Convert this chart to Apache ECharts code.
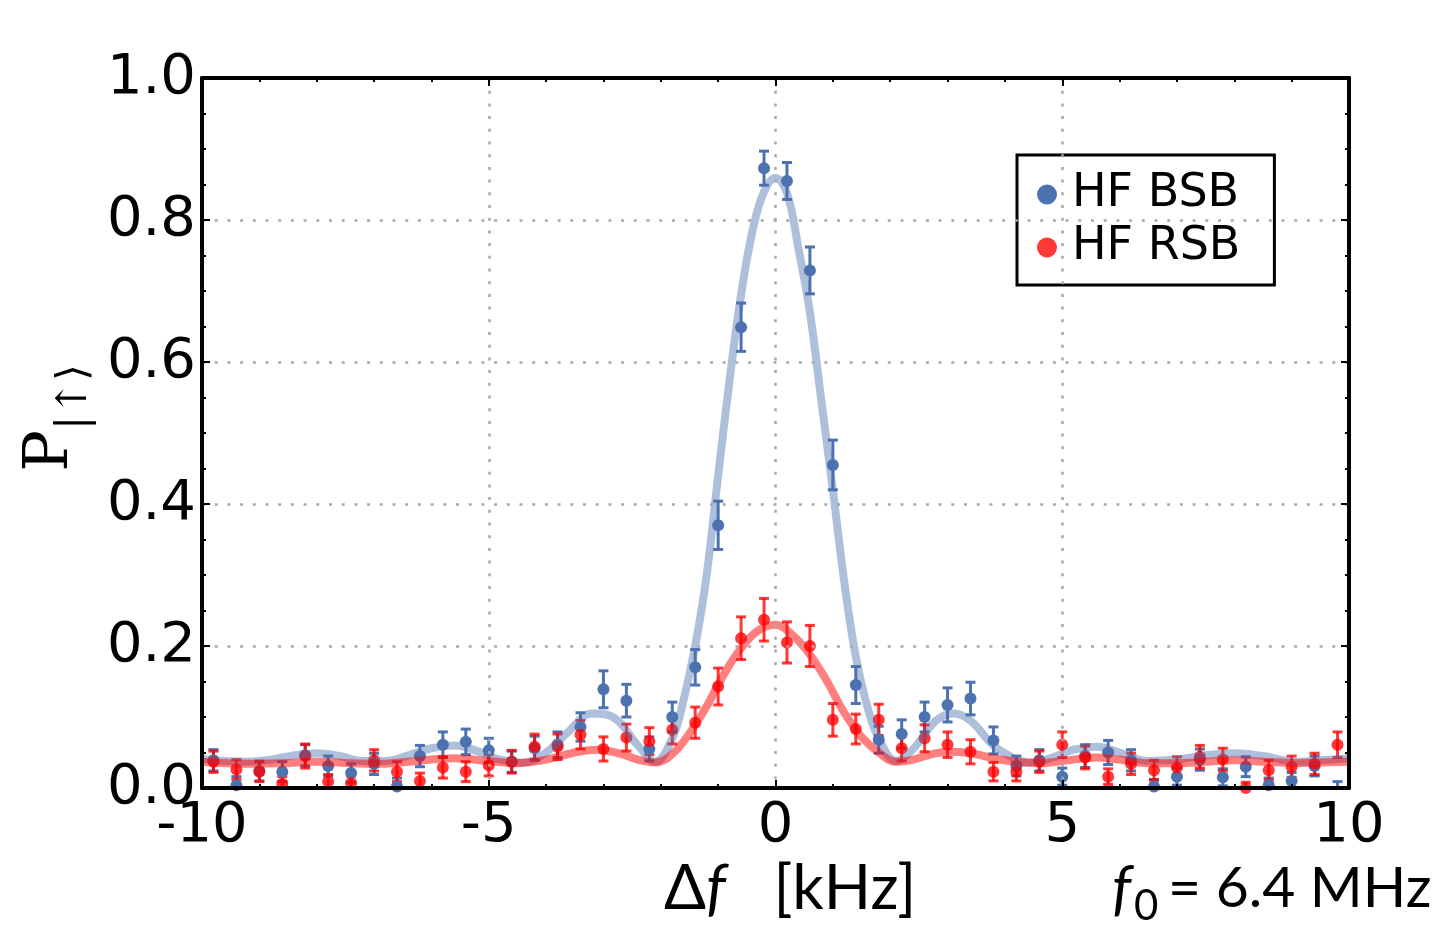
<!DOCTYPE html>
<html>
<head>
<meta charset="utf-8">
<script src="https://cdn.jsdelivr.net/npm/echarts@6/dist/echarts.min.js"></script>
<style>
  html, body { margin: 0; padding: 0; background: #fff; }
  #main { width: 1442px; height: 925px; }
</style>
</head>
<body>
<div id="main"></div>
<script>
// detuning of each measured point [kHz]
const detuning = [-9.8, -9.4, -9.0, -8.6, -8.2, -7.8, -7.4, -7.0, -6.6, -6.2,
  -5.8, -5.4, -5.0, -4.6, -4.2, -3.8, -3.4, -3.0, -2.6, -2.2,
  -1.8, -1.4, -1.0, -0.6, -0.2, 0.2, 0.6, 1.0, 1.4, 1.8,
  2.2, 2.6, 3.0, 3.4, 3.8, 4.2, 4.6, 5.0, 5.4, 5.8,
  6.2, 6.6, 7.0, 7.4, 7.8, 8.2, 8.6, 9.0, 9.4, 9.8];

// HF BSB measured points and errors
const bsbVals = [0.039, 0.004, 0.024, 0.023, 0.046, 0.031, 0.021, 0.034, 0.002, 0.045,
  0.061, 0.065, 0.053, 0.037, 0.056, 0.061, 0.086, 0.139, 0.123, 0.055,
  0.100, 0.170, 0.370, 0.649, 0.873, 0.855, 0.729, 0.455, 0.145, 0.068,
  0.076, 0.100, 0.117, 0.126, 0.067, 0.031, 0.039, 0.016, 0.045, 0.050,
  0.039, 0.002, 0.016, 0.040, 0.015, 0.030, 0.004, 0.010, 0.031, -0.006];
const bsbErr = [0.015, 0.012, 0.014, 0.014, 0.015, 0.014, 0.013, 0.015, 0.012, 0.015,
  0.018, 0.018, 0.017, 0.015, 0.017, 0.018, 0.020, 0.026, 0.023, 0.017,
  0.021, 0.025, 0.034, 0.034, 0.024, 0.026, 0.033, 0.035, 0.026, 0.019,
  0.020, 0.021, 0.024, 0.023, 0.019, 0.014, 0.015, 0.012, 0.016, 0.017,
  0.015, 0.010, 0.012, 0.015, 0.012, 0.014, 0.010, 0.012, 0.014, 0.015];

// HF RSB measured points and errors
const rsbVals = [0.037, 0.026, 0.023, 0.006, 0.045, 0.009, 0.007, 0.039, 0.023, 0.010,
  0.029, 0.023, 0.032, 0.037, 0.058, 0.058, 0.075, 0.055, 0.071, 0.066,
  0.082, 0.092, 0.143, 0.211, 0.237, 0.205, 0.200, 0.096, 0.083, 0.096,
  0.056, 0.070, 0.061, 0.051, 0.023, 0.023, 0.037, 0.061, 0.043, 0.016,
  0.034, 0.025, 0.029, 0.044, 0.040, 0.000, 0.025, 0.030, 0.034, 0.061];
const rsbErr = [0.015, 0.014, 0.014, 0.010, 0.017, 0.010, 0.010, 0.015, 0.014, 0.011,
  0.015, 0.014, 0.015, 0.016, 0.018, 0.018, 0.020, 0.017, 0.019, 0.019,
  0.020, 0.022, 0.026, 0.030, 0.030, 0.029, 0.029, 0.023, 0.021, 0.022,
  0.018, 0.019, 0.018, 0.017, 0.013, 0.013, 0.015, 0.018, 0.016, 0.011,
  0.015, 0.014, 0.015, 0.016, 0.016, 0.008, 0.014, 0.015, 0.015, 0.018];

// fitted curves
const bsbFitX = [-10, -9.6, -9.2, -8.8, -8.4, -8.0, -7.6, -7.2, -6.8, -6.4,
  -6.0, -5.6, -5.2, -4.8, -4.4, -4.0, -3.6, -3.2, -2.8, -2.4,
  -2.1, -1.8, -1.6, -1.4, -1.2, -1.0, -0.8, -0.6, -0.4, -0.2,
  0, 0.2, 0.4, 0.6, 0.8, 1.0, 1.2, 1.4, 1.6, 1.8,
  2.1, 2.4, 2.8, 3.1, 3.4, 3.8, 4.2, 4.4, 4.8, 5.2,
  5.6, 6.0, 6.5, 7.0, 7.5, 8.0, 8.5, 9.1, 9.5, 10];
const bsbFitY = [0.041, 0.038, 0.037, 0.040, 0.046, 0.049, 0.045, 0.038, 0.038, 0.046,
  0.056, 0.060, 0.052, 0.040, 0.036, 0.050, 0.080, 0.105, 0.098, 0.060,
  0.037, 0.070, 0.125, 0.200, 0.300, 0.440, 0.575, 0.695, 0.785, 0.840,
  0.859, 0.838, 0.760, 0.670, 0.545, 0.420, 0.290, 0.185, 0.115, 0.070,
  0.038, 0.055, 0.095, 0.105, 0.095, 0.060, 0.040, 0.036, 0.042, 0.054,
  0.058, 0.050, 0.038, 0.040, 0.046, 0.049, 0.045, 0.037, 0.039, 0.042];

const rsbFitX = [-10, -9.2, -8.6, -8.0, -7.4, -7.0, -6.4, -5.6, -5.0, -4.5,
  -4.0, -3.5, -3.1, -2.7, -2.4, -2.1, -1.8, -1.5, -1.2, -0.9,
  -0.6, -0.3, 0, 0.3, 0.6, 0.9, 1.2, 1.5, 1.8, 2.1,
  2.4, 2.7, 3.0, 3.4, 3.8, 4.2, 4.6, 5.0, 5.6, 6.0,
  6.5, 7.0, 7.5, 8.0, 8.5, 9.1, 9.5, 10];
const rsbFitY = [0.037, 0.034, 0.035, 0.037, 0.035, 0.034, 0.037, 0.042, 0.038, 0.035,
  0.040, 0.050, 0.054, 0.048, 0.040, 0.036, 0.048, 0.077, 0.115, 0.160,
  0.197, 0.222, 0.230, 0.215, 0.188, 0.150, 0.106, 0.072, 0.050, 0.037,
  0.040, 0.047, 0.051, 0.049, 0.042, 0.037, 0.035, 0.038, 0.043, 0.040,
  0.035, 0.035, 0.037, 0.039, 0.037, 0.035, 0.036, 0.037];

const xTicks = [-10, -5, 0, 5, 10];
const yTicks = [0.0, 0.2, 0.4, 0.6, 0.8, 1.0];

const BLUE = '#4C72B0';
const RED = 'rgba(255,0,0,0.78)';

const zip = (xs, ys) => xs.map((x, i) => [x, ys[i]]);
const zip3 = (xs, ys, es) => xs.map((x, i) => [x, ys[i], es[i]]);

// vertical error bar with small caps
function errorBars(color) {
  return function (params, api) {
    const x = api.value(0), y = api.value(1), e = api.value(2);
    const hi = api.coord([x, y + e]);
    const lo = api.coord([x, y - e]);
    const w = 5;
    const st = { stroke: color, lineWidth: 3 };
    return {
      type: 'group',
      children: [
        { type: 'line', shape: { x1: hi[0], y1: hi[1], x2: lo[0], y2: lo[1] }, style: st },
        { type: 'line', shape: { x1: hi[0] - w, y1: hi[1], x2: hi[0] + w, y2: hi[1] }, style: st },
        { type: 'line', shape: { x1: lo[0] - w, y1: lo[1], x2: lo[0] + w, y2: lo[1] }, style: st }
      ]
    };
  };
}

const chart = echarts.init(document.getElementById('main'), null, { renderer: 'canvas' });

const tickFont = { fontFamily: 'DejaVu Sans', fontSize: 56, color: '#000' };
const gridLine = { show: true, lineStyle: { color: '#a8a8a8', width: 2.5, type: [3, 9.7] } };
const frameLine = { show: true, onZero: false, lineStyle: { color: '#000', width: 4 } };
const majorTick = { show: true, inside: true, length: 8, lineStyle: { color: '#000', width: 2 } };

const option = {
  animation: false,
  backgroundColor: '#fff',
  grid: { left: 202, right: 93, top: 78, bottom: 137 },
  legend: {
    left: 1017,
    top: 155,
    orient: 'vertical',
    data: ['HF BSB', 'HF RSB'],
    icon: 'circle',
    itemWidth: 20,
    itemHeight: 20,
    itemGap: 0,
    padding: [13, 34, 11, 20],
    borderColor: '#000',
    borderWidth: 3,
    backgroundColor: '#fff',
    textStyle: { fontFamily: 'DejaVu Sans', fontSize: 46, lineHeight: 53, color: '#000', padding: [0, 0, 0, 10] }
  },
  xAxis: [{
    type: 'value', min: -10, max: 10, interval: 5, z: 10,
    axisLine: frameLine,
    axisTick: majorTick,
    minorTick: { show: true, splitNumber: 5, length: 4, lineStyle: { color: '#000', width: 2 } },
    axisLabel: Object.assign({ margin: 10, formatter: v => xTicks.includes(v) ? String(v) : '' }, tickFont),
    splitLine: gridLine
  }, {
    type: 'value', min: -10, max: 10, interval: 5, position: 'top', z: 10,
    axisLine: frameLine,
    axisTick: majorTick,
    minorTick: { show: true, splitNumber: 5, length: 4, lineStyle: { color: '#000', width: 2 } },
    axisLabel: { show: false },
    splitLine: { show: false }
  }],
  yAxis: [{
    type: 'value', min: 0, max: 1, interval: 0.2, z: 10,
    axisLine: frameLine,
    axisTick: majorTick,
    minorTick: { show: true, splitNumber: 4, length: 4, lineStyle: { color: '#000', width: 2 } },
    axisLabel: Object.assign({ margin: 6, formatter: v => v.toFixed(1) }, tickFont),
    splitLine: gridLine
  }, {
    type: 'value', min: 0, max: 1, interval: 0.2, position: 'right', z: 10,
    axisLine: frameLine,
    axisTick: majorTick,
    minorTick: { show: true, splitNumber: 4, length: 4, lineStyle: { color: '#000', width: 2 } },
    axisLabel: { show: false },
    splitLine: { show: false }
  }],
  series: [
    {
      name: 'BSB fit', type: 'line', smooth: 0.4, symbol: 'none', clip: true,
      data: zip(bsbFitX, bsbFitY),
      lineStyle: { color: 'rgba(76,114,176,0.45)', width: 8 }
    },
    {
      name: 'RSB fit', type: 'line', smooth: 0.4, symbol: 'none', clip: true,
      data: zip(rsbFitX, rsbFitY),
      lineStyle: { color: 'rgba(255,0,0,0.5)', width: 8 }
    },
    {
      name: 'BSB err', type: 'custom', clip: true,
      renderItem: errorBars(BLUE),
      encode: { x: 0, y: 1 },
      data: zip3(detuning, bsbVals, bsbErr)
    },
    {
      name: 'HF BSB', type: 'scatter', symbol: 'circle', symbolSize: 12, clip: true,
      itemStyle: { color: BLUE, opacity: 1 },
      data: zip(detuning, bsbVals)
    },
    {
      name: 'RSB err', type: 'custom', clip: true,
      renderItem: errorBars(RED),
      encode: { x: 0, y: 1 },
      data: zip3(detuning, rsbVals, rsbErr)
    },
    {
      name: 'HF RSB', type: 'scatter', symbol: 'circle', symbolSize: 12, clip: true,
      itemStyle: { color: RED, opacity: 1 },
      data: zip(detuning, rsbVals)
    }
  ],
  graphic: [
    {
      type: 'text', x: 58, y: 418, rotation: Math.PI / 2,
      style: {
        text: '{p|P}{s||↑⟩}',
        align: 'center', verticalAlign: 'middle',
        rich: {
          p: { fontFamily: 'DejaVu Serif', fontSize: 62, fill: '#000', verticalAlign: 'bottom', padding: [0, 0, 14, 0] },
          s: { fontFamily: 'DejaVu Serif', fontSize: 42, fill: '#000', verticalAlign: 'bottom' }
        }
      }
    },
    {
      type: 'text', x: 790, y: 889,
      style: {
        text: '{d|Δ}{f|f}{d|   [kHz]}',
        align: 'center', verticalAlign: 'middle',
        rich: {
          d: { fontFamily: 'Lato', fontSize: 62, fill: '#000' },
          f: { fontFamily: 'Lato', fontStyle: 'italic', fontSize: 62, fill: '#000' }
        }
      }
    },
    {
      type: 'text', x: 1112, y: 889,
      style: { text: 'f', fontFamily: 'Lato', fontStyle: 'italic', fontSize: 60, fill: '#000', verticalAlign: 'middle' }
    },
    {
      type: 'text', x: 1134, y: 906,
      style: { text: '0', fontFamily: 'Lato', fontSize: 42, fill: '#000', verticalAlign: 'middle' }
    },
    {
      type: 'text', x: 1168, y: 889,
      style: { text: '= 6.4 MHz', fontFamily: 'Lato', fontSize: 57, fill: '#000', verticalAlign: 'middle' }
    }
  ]
};

chart.setOption(option);
</script>
</body>
</html>
